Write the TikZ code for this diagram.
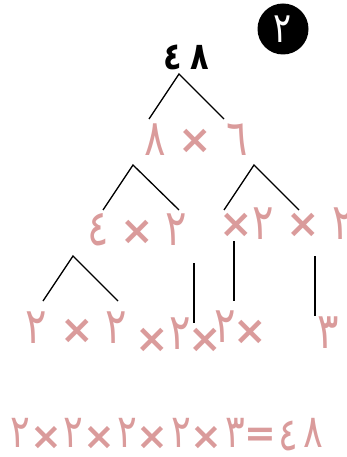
\documentclass[tikz,border=0pt]{standalone}
\usepackage{fontspec}
\newfontfamily\arf[Script=Arabic,FakeStretch=0.8]{DejaVu Sans}
\newfontfamily\mxf{DejaVu Sans}
\definecolor{pk}{RGB}{218,155,155}
\begin{document}
\begin{tikzpicture}[x=1pt,y=-1pt,
  dg/.style={text=pk,font=\arf\fontsize{50}{50}\selectfont,inner sep=0pt},
  mx/.style={text=pk,font=\mxf\bfseries\fontsize{40}{40}\selectfont,inner sep=0pt},
  bdg/.style={text=pk,font=\arf\fontsize{46}{46}\selectfont,inner sep=0pt},
  bmx/.style={text=pk,font=\mxf\bfseries\fontsize{38}{38}\selectfont,inner sep=0pt},
  br/.style={draw=black,line width=1.3pt}]
\useasboundingbox (0,0) rectangle (347,457);
% badge
\node[circle,fill=black,minimum size=51pt,inner sep=0pt] (badge) at (283,29) {};
\node[text=white,font=\arf\fontsize{42}{42}\selectfont,inner sep=0pt] (badgenum) at (283,29) {٢};
% top number
\node[font=\arf\bfseries\fontsize{38}{38}\selectfont,inner sep=0pt] (t4) at (173,57) {٤};
\node[font=\arf\bfseries\fontsize{38}{38}\selectfont,inner sep=0pt] (t8) at (200,57) {٨};
\coordinate (a1) at (179,74);
\coordinate (a1l) at (149,119);
\coordinate (a1r) at (224,119);
\draw[br] (a1l) -- (a1) -- (a1r);
% row 2
\node[dg] (r2a) at (155,140) {٨};
\node[mx] (r2x) at (195,141) {×};
\node[dg] (r2b) at (237,140) {٦};
% row 2 branches
\coordinate (a2) at (133,165);
\coordinate (a2l) at (103,210);
\coordinate (a2r) at (179,210);
\draw[br] (a2l) -- (a2) -- (a2r);
\coordinate (a3) at (254,165);
\coordinate (a3l) at (224,210);
\coordinate (a3r) at (299,210);
\draw[br] (a3l) -- (a3) -- (a3r);
% row 3
\node[dg] (r3a) at (98,230) {٤};
\node[mx] (r3x) at (137,232) {×};
\node[dg] (r3b) at (176,230) {٢};
\node[mx] (r3x2) at (236,225) {×};
\node[dg] (r3c) at (263,224) {٢};
\node[mx] (r3x3) at (303,225) {×};
\node[dg] (r3d) at (343,224) {٢};
% row 3 branches
\coordinate (a4) at (73,256);
\coordinate (a4l) at (43,301);
\coordinate (a4r) at (118,301);
\draw[br] (a4l) -- (a4) -- (a4r);
\coordinate (v1t) at (194,263);
\coordinate (v1b) at (194,323);
\draw[br] (v1t) -- (v1b);
\coordinate (v2t) at (234,241);
\coordinate (v2b) at (234,301);
\draw[br] (v2t) -- (v2b);
\coordinate (v3t) at (315,256);
\coordinate (v3b) at (315,316);
\draw[br] (v3t) -- (v3b);
% row 4
\node[dg] (r4a) at (36,328) {٢};
\node[mx] (r4x) at (77,331) {×};
\node[dg] (r4b) at (116,328) {٢};
\node[mx] (r4x2) at (152,340) {×};
\node[dg] (r4c) at (180,334) {٢};
\node[mx] (r4x3) at (205,340) {×};
\node[dg] (r4d) at (225,327) {٢};
\node[mx] (r4x4) at (250,332) {×};
\node[dg] (r4e) at (328,333) {٣};
% bottom equation
\node[bdg] (e1) at (20,433) {٢};
\node[bmx] (e2) at (46,438) {×};
\node[bdg] (e3) at (73,433) {٢};
\node[bmx] (e4) at (99,438) {×};
\node[bdg] (e5) at (127,433) {٢};
\node[bmx] (e6) at (152,438) {×};
\node[bdg] (e7) at (181,433) {٢};
\node[bmx] (e8) at (206,438) {×};
\node[bdg] (e9) at (235,433) {٣};
\node[bmx] (e10) at (260,437) {=};
\node[bdg] (e11) at (288,436) {٤};
\node[bdg] (e12) at (313,433) {٨};
\end{tikzpicture}
\end{document}
